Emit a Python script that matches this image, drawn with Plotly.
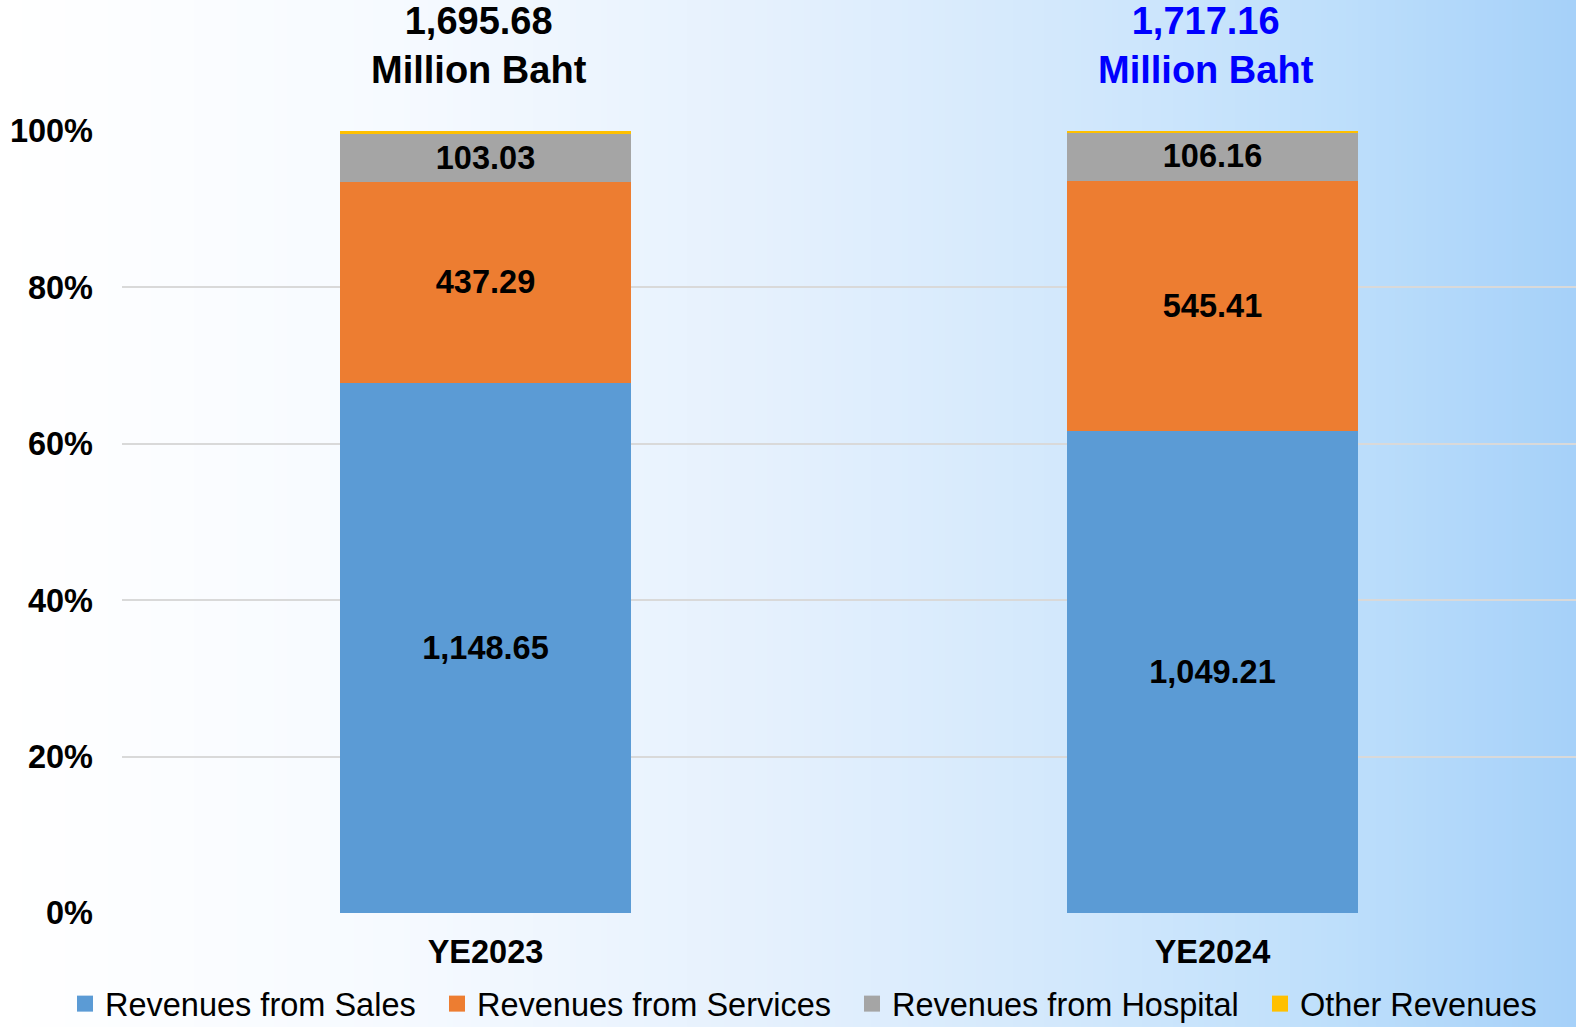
import base64, struct, zlib
import plotly.graph_objects as go

categories = ["YE2023", "YE2024"]
sales = [1148.65, 1049.21]
services = [437.29, 545.41]
hospital = [103.03, 106.16]
other = [6.71, 2.4]
totals_text = ["1,695.68<br>Million Baht", "1,717.16<br>Million Baht"]
total_colors = ["#000000", "#0000FF"]
ytick_vals = [0, 20, 40, 60, 80, 100]

# --- horizontal gradient background as an inline PNG ---
stops = [(0.0, (255, 255, 255)), (0.25, (246, 250, 255)), (0.5, (228, 240, 253)),
         (0.7, (208, 231, 252)), (0.85, (190, 223, 251)), (1.0, (166, 209, 249))]
def col_at(t):
    for (t0, c0), (t1, c1) in zip(stops[:-1], stops[1:]):
        if t0 <= t <= t1:
            f = (t - t0) / (t1 - t0)
            return tuple(int(round(a + (b - a) * f)) for a, b in zip(c0, c1))
    return stops[-1][1]
W = 256
row = b"\x00" + b"".join(bytes(col_at(i / (W - 1))) for i in range(W))
def chunk(tag, data):
    c = struct.pack(">I", len(data)) + tag + data
    return c + struct.pack(">I", zlib.crc32(tag + data) & 0xffffffff)
png = (b"\x89PNG\r\n\x1a\n" + chunk(b"IHDR", struct.pack(">IIBBBBB", W, 1, 8, 2, 0, 0, 0))
       + chunk(b"IDAT", zlib.compress(row)) + chunk(b"IEND", b""))
bg_uri = "data:image/png;base64," + base64.b64encode(png).decode()

FONT = "Liberation Sans, Arial, sans-serif"
colors = ["#5B9BD5", "#ED7D31", "#A5A5A5", "#FFC000"]
names = ["Revenues from Sales", "Revenues from Services", "Revenues from Hospital", "Other Revenues"]
values = [sales, services, hospital, other]
labelled = [True, True, True, False]
legend_ids = ["legend", "legend2", "legend3", "legend4"]
legend_left_px = [65, 437, 852, 1260]

fig = go.Figure()
for name, vals, color, show in zip(names, values, colors, labelled):
    fig.add_trace(go.Bar(
        name=name, x=categories, y=vals, customdata=vals, showlegend=False,
        marker=dict(color=color, line=dict(width=0)),
        texttemplate="<b>%{customdata:,.2f}</b>" if show else "",
        textposition="inside" if show else "none",
        insidetextanchor="middle", textangle=0, constraintext="none",
        insidetextfont=dict(family=FONT, size=32.5, color="#000000"),
        hoverinfo="skip",
    ))
# legend entries with larger square swatches, one legend box per entry
for name, color, lid in zip(names, colors, legend_ids):
    fig.add_trace(go.Scatter(
        name=name, x=[None], y=[None], mode="markers", legend=lid,
        marker=dict(symbol="square", size=17, color=color), showlegend=True,
        hoverinfo="skip"))

L, R, T, B = 122, 0, 131, 114
pw = 1576 - L - R
ph = 1027 - T - B
fig.add_layout_image(dict(
    source=bg_uri, xref="paper", yref="paper",
    x=-L / pw, y=1 + T / ph, sizex=1 + (L + R) / pw, sizey=1 + (T + B) / ph,
    xanchor="left", yanchor="top", sizing="stretch", layer="below"))

for cat, txt, c in zip(categories, totals_text, total_colors):
    fig.add_annotation(x=cat, xref="x", y=(913 - 45) / ph, yref="paper",
                       text="<b>" + txt + "</b>", showarrow=False, xshift=-7,
                       font=dict(family=FONT, size=38, color=c), yanchor="middle")

legend_style = dict(orientation="h", xanchor="left", y=(913 - 1004) / ph, yanchor="middle",
                    font=dict(family=FONT, size=32.5, color="#000000"),
                    bgcolor="rgba(0,0,0,0)", itemwidth=30, borderwidth=0)
legends = {lid: dict(legend_style, x=(px - L) / pw) for lid, px in zip(legend_ids, legend_left_px)}

fig.update_layout(
    width=1576, height=1027,
    margin=dict(l=L, r=R, t=T, b=B, autoexpand=False),
    barmode="stack", barnorm="percent", bargap=0.6,
    paper_bgcolor="white", plot_bgcolor="rgba(0,0,0,0)",
    font=dict(family=FONT, color="#000000"),
    showlegend=True,
    yaxis=dict(range=[0, 100], showgrid=True, gridcolor="#D9D9D9", gridwidth=2,
               zeroline=False, showline=False, ticks="", ticklabelstandoff=28,
               tickmode="array", tickvals=ytick_vals,
               ticktext=["<b>%d%%</b>" % v for v in ytick_vals],
               tickfont=dict(family=FONT, size=32.5, color="#000000")),
    xaxis=dict(showline=False, ticks="", ticklabelstandoff=16,
               tickmode="array", tickvals=categories,
               ticktext=["<b>%s</b>" % c for c in categories],
               tickfont=dict(family=FONT, size=32.5, color="#000000")),
    **legends,
)

fig.write_html("out.html", config={"displayModeBar": False},
               post_script="document.body.style.margin='0';document.body.style.overflow='hidden';")
